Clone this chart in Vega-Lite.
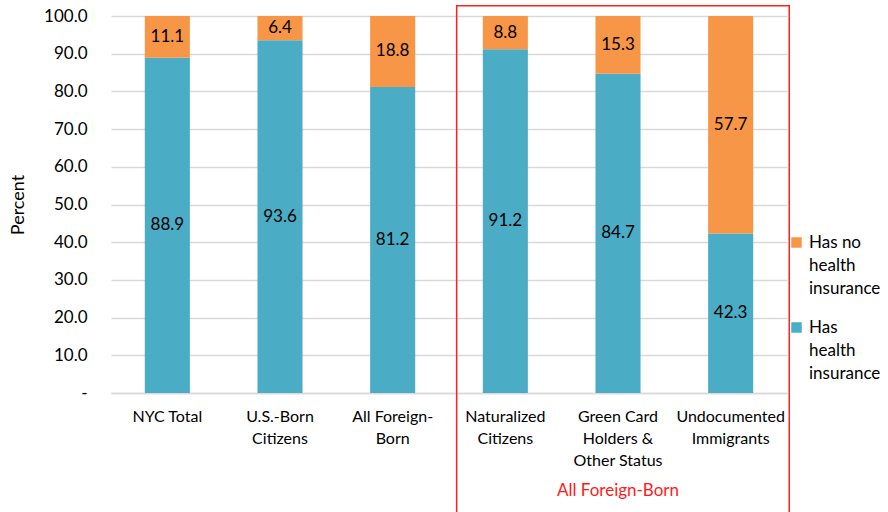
{
  "$schema": "https://vega.github.io/schema/vega-lite/v6.json",
  "width": 676,
  "height": 377,
  "autosize": {"type": "none"},
  "padding": {"left": 111, "top": 16, "right": 101, "bottom": 119},
  "background": "white",
  "config": {
    "view": {"stroke": null},
    "font": "Lato",
    "axis": {"labelFont": "Lato", "titleFont": "Lato", "labelColor": "#000000", "titleColor": "#000000"},
    "axisY": {
      "titleFontSize": 18,
      "titleFontWeight": "normal",
      "titlePadding": 16,
      "tickCount": 12,
      "labelOverlap": false,
      "labelFontSize": 17,
      "labelPadding": 24,
      "ticks": false,
      "domain": false,
      "gridColor": "#D9D9D9",
      "gridWidth": 1.5
    },
    "style": {"guide-label": {"lineHeight": 23}}
  },
  "data": {
    "values": [
      {"group": "NYC Total", "status": "Has health insurance", "value": 88.9},
      {"group": "NYC Total", "status": "Has no health insurance", "value": 11.1},
      {"group": "U.S.-Born Citizens", "status": "Has health insurance", "value": 93.6},
      {"group": "U.S.-Born Citizens", "status": "Has no health insurance", "value": 6.4},
      {"group": "All Foreign-Born", "status": "Has health insurance", "value": 81.2},
      {"group": "All Foreign-Born", "status": "Has no health insurance", "value": 18.8},
      {"group": "Naturalized Citizens", "status": "Has health insurance", "value": 91.2},
      {"group": "Naturalized Citizens", "status": "Has no health insurance", "value": 8.8},
      {"group": "Green Card Holders & Other Status", "status": "Has health insurance", "value": 84.7},
      {"group": "Green Card Holders & Other Status", "status": "Has no health insurance", "value": 15.3},
      {"group": "Undocumented Immigrants", "status": "Has health insurance", "value": 42.3},
      {"group": "Undocumented Immigrants", "status": "Has no health insurance", "value": 57.7}
    ]
  },
  "encoding": {
    "x": {
      "field": "group",
      "type": "nominal",
      "sort": null,
      "scale": {"paddingInner": 0.6, "paddingOuter": 0.3},
      "axis": {
        "title": null,
        "labelAngle": 0,
        "labelFontSize": 16,
        "labelLineHeight": 22,
        "labelPadding": 15,
        "ticks": false,
        "domainColor": "#D9D9D9",
        "domainWidth": 1.5,
        "labelExpr": "datum.label == 'U.S.-Born Citizens' ? ['U.S.-Born', 'Citizens'] : datum.label == 'All Foreign-Born' ? ['All Foreign-', 'Born'] : datum.label == 'Naturalized Citizens' ? ['Naturalized', 'Citizens'] : datum.label == 'Green Card Holders & Other Status' ? ['Green Card', 'Holders &', 'Other Status'] : datum.label == 'Undocumented Immigrants' ? ['Undocumented', 'Immigrants'] : datum.label"
      }
    }
  },
  "layer": [
    {
      "mark": {"type": "bar"},
      "encoding": {
        "y": {
          "field": "value",
          "type": "quantitative",
          "stack": "zero",
          "scale": {"domain": [0, 100], "nice": false},
          "axis": {
            "title": "Percent",
            "values": [0, 10, 20, 30, 40, 50, 60, 70, 80, 90, 100],
            "labelExpr": "datum.value == 0 ? '-' : format(datum.value, '.1f')"
          }
        },
        "color": {
          "field": "status",
          "type": "nominal",
          "scale": {
            "domain": ["Has no health insurance", "Has health insurance"],
            "range": ["#F79646", "#4BACC6"]
          },
          "legend": {
            "title": null,
            "orient": "none",
            "legendX": 677,
            "legendY": 218,
            "symbolType": "square",
            "symbolSize": 110,
            "symbolStrokeWidth": 0,
            "labelFontSize": 17,
            "labelFont": "Lato",
            "labelColor": "#000000",
            "labelOffset": 4,
            "rowPadding": 21,
            "labelLimit": 200,
            "labelExpr": "datum.label == 'Has no health insurance' ? ['Has no', 'health', 'insurance'] : ['Has', 'health', 'insurance']"
          }
        },
        "order": {"field": "status", "sort": "ascending"}
      }
    },
    {
      "transform": [
        {"stack": "value", "groupby": ["group"], "sort": [{"field": "status", "order": "ascending"}], "as": ["v0", "v1"]},
        {"calculate": "(datum.v0 + datum.v1) / 2", "as": "mid"}
      ],
      "mark": {"type": "text", "fontSize": 17, "color": "#000000", "font": "Lato"},
      "encoding": {
        "y": {
          "field": "mid",
          "type": "quantitative",
          "axis": {
            "title": "Percent",
            "values": [0, 10, 20, 30, 40, 50, 60, 70, 80, 90, 100],
            "labelExpr": "datum.value == 0 ? '-' : format(datum.value, '.1f')"
          }
        },
        "text": {"field": "value", "type": "quantitative", "format": ".1f"}
      }
    },
    {
      "data": {"values": [{"from": "Naturalized Citizens", "to": "Undocumented Immigrants"}]},
      "mark": {"type": "rect", "fill": null, "stroke": "#FF2020", "strokeWidth": 1.5, "clip": false},
      "encoding": {
        "x": {"field": "from", "type": "nominal", "bandPosition": -0.58},
        "x2": {"field": "to", "bandPosition": 1.8},
        "y": {
          "datum": 102.7,
          "type": "quantitative",
          "axis": {
            "title": "Percent",
            "values": [0, 10, 20, 30, 40, 50, 60, 70, 80, 90, 100],
            "labelExpr": "datum.value == 0 ? '-' : format(datum.value, '.1f')"
          }
        },
        "y2": {"datum": -40}
      }
    },
    {
      "data": {"values": [{"group": "Green Card Holders & Other Status", "label": "All Foreign-Born"}]},
      "mark": {"type": "text", "fontSize": 17, "color": "#FF1A1A", "font": "Lato"},
      "encoding": {
        "y": {
          "datum": -26,
          "type": "quantitative",
          "axis": {
            "title": "Percent",
            "values": [0, 10, 20, 30, 40, 50, 60, 70, 80, 90, 100],
            "labelExpr": "datum.value == 0 ? '-' : format(datum.value, '.1f')"
          }
        },
        "text": {"field": "label"}
      }
    }
  ]
}
